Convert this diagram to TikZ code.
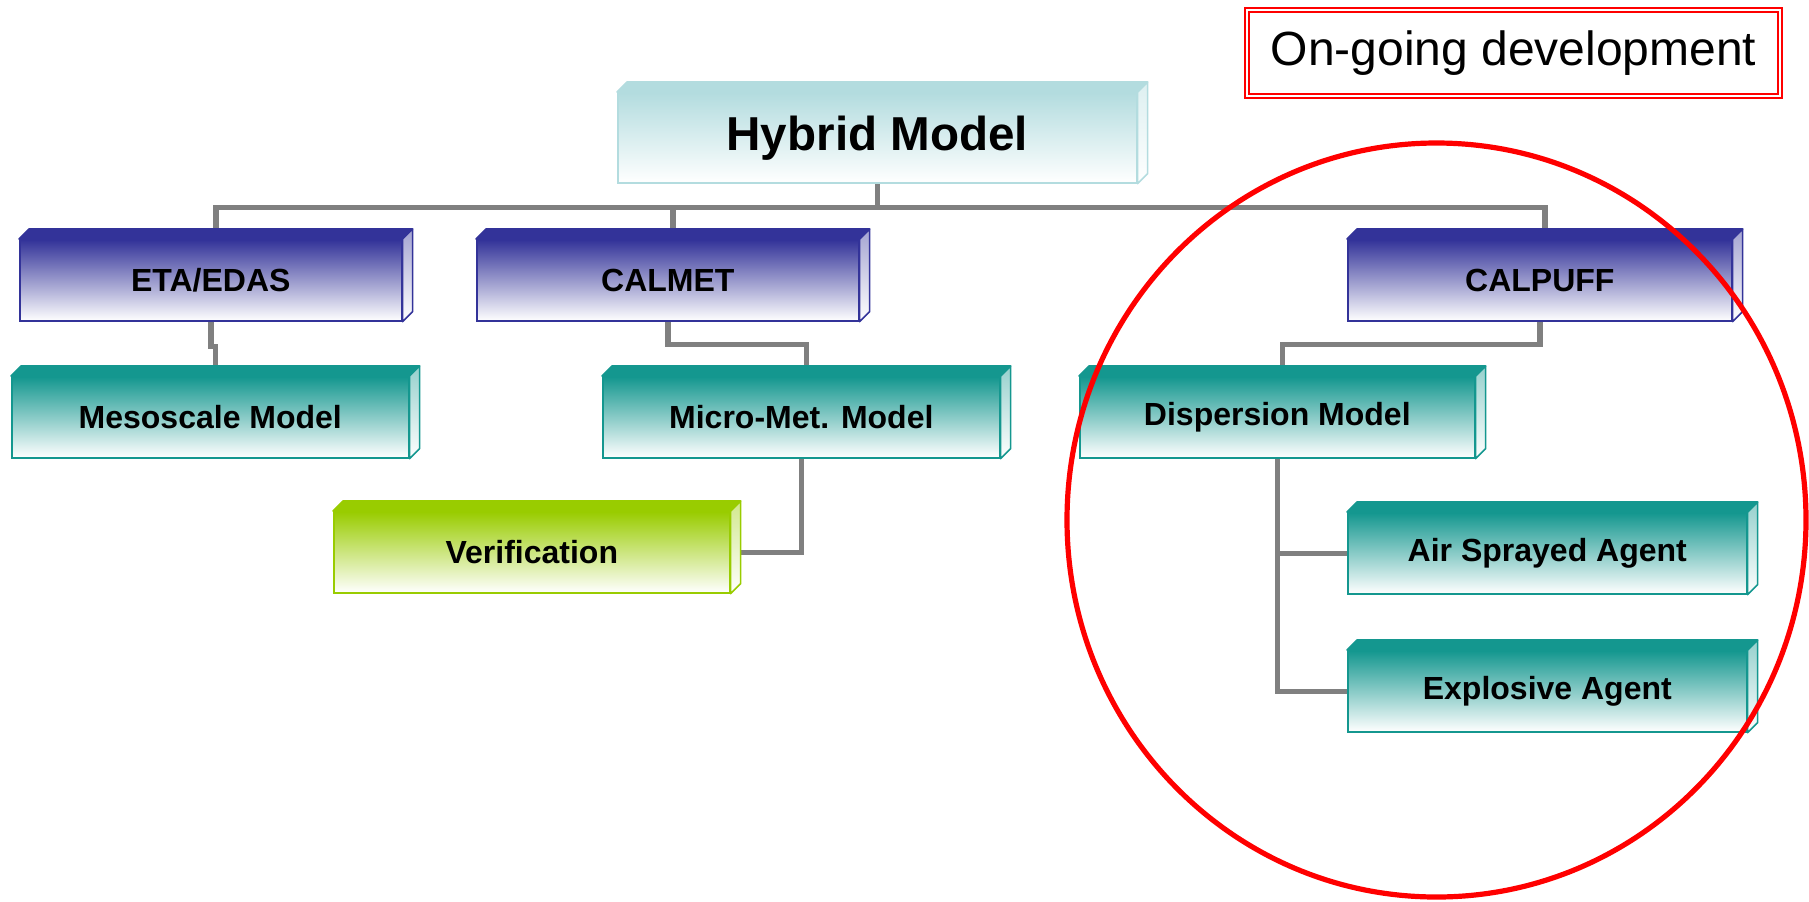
\documentclass[tikz,border=0pt]{standalone}
\usepackage{fontspec}
\setmainfont{Liberation Sans}
\usetikzlibrary{backgrounds}
\definecolor{navycol}{HTML}{333399}
\definecolor{tealcol}{HTML}{14978F}
\definecolor{limecol}{HTML}{99CC00}
\definecolor{hybcol}{HTML}{B3DCDF}
\definecolor{linkgray}{HTML}{808080}
\begin{document}
\begin{tikzpicture}[x=0.5pt, y=-0.5pt,
  box/.style={draw=#1, line width=0.8pt, top color=#1, bottom color=white, anchor=north west,
    inner sep=0pt, minimum height=40.5pt, font=\bfseries\fontsize{16}{19}\selectfont},
  link/.style={draw=linkgray, line width=2.7pt}]
\useasboundingbox (0,0) rectangle (1809,901);
\node[box=hybcol, minimum width=259.5pt, minimum height=45pt, font=\bfseries\fontsize{23.8}{28}\selectfont] (hybrid) at (617,92) {Hybrid Model};
\node[box=navycol, minimum width=191pt] (eta) at (19,239) {ETA/EDAS};
\node[box=navycol, minimum width=191pt] (calmet) at (476,239) {CALMET};
\node[box=navycol, minimum width=192pt] (calpuff) at (1347,239) {CALPUFF};
\node[box=tealcol, minimum width=198.5pt] (meso) at (11,376) {Mesoscale Model};
\node[box=tealcol, minimum width=198.5pt] (micro) at (602,376) {Micro-Met. Model};
\node[box=tealcol, minimum width=197.5pt] (disp) at (1079,376) {Dispersion Model};
\node[box=limecol, minimum width=198pt] (verif) at (333,511) {Verification};
\node[box=tealcol, minimum width=199.5pt] (air) at (1347,512) {Air Sprayed Agent};
\node[box=tealcol, minimum width=199.5pt] (expl) at (1347,650) {Explosive Agent};
\foreach \n/\c in {hybrid/hybcol, eta/navycol, calmet/navycol, calpuff/navycol, meso/tealcol,
    micro/tealcol, disp/tealcol, verif/limecol, air/tealcol, expl/tealcol} {
  \filldraw[draw=\c, fill=\c, line width=0.8pt, line join=round] (\n.north west) -- ++(10,-10)
    -- ([shift={(10,-10)}]\n.north east) -- (\n.north east) -- cycle;
  \shadedraw[draw=\c, top color=\c!45, bottom color=white, line width=0.8pt, line join=round]
    (\n.north east) -- ++(10,-10) -- ([shift={(10,-10)}]\n.south east) -- (\n.south east) -- cycle;
}
\begin{scope}[on background layer]
\draw[link] (hybrid.south) -- ++(0,24) coordinate (bus);
\draw[link] (bus) -| ([xshift=2.5pt]eta.north);
\draw[link] (bus) -| ([xshift=2.5pt]calmet.north);
\draw[link] (bus) -| ([xshift=2.5pt]calpuff.north);
\draw[link] (eta.south) -- ++(0,25) -| ([xshift=2.5pt]meso.north);
\draw[link] (calmet.south) -- ++(0,23) -| ([xshift=2.5pt]micro.north);
\draw[link] (calpuff.south) -- ++(0,23) -| ([xshift=2.5pt]disp.north);
\draw[link] (micro.south) |- ([xshift=5pt]verif.east);
\draw[link] (disp.south) |- (air.west);
\draw[link] (disp.south) |- (expl.west);
\end{scope}
\node[draw=red, double=white, line width=1pt, double distance=1pt, minimum width=266.5pt,
  minimum height=43pt, inner sep=0pt, font=\fontsize{24}{29}\selectfont] (dev) at (1513.5,53) {On-going development};
\draw[red, line width=2.6pt] (1436.5,520) ellipse [x radius=184.75pt, y radius=188.5pt];
\end{tikzpicture}
\end{document}
